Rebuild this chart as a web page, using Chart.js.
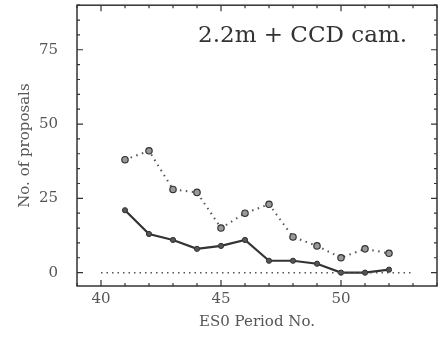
<!DOCTYPE html>
<html>
<head>
<meta charset="utf-8">
<script src="https://cdn.jsdelivr.net/npm/chart.js@4"></script>
<style>
  html, body { margin: 0; padding: 0; background: #fff; }
  #wrap { width: 446px; height: 338px; }
</style>
</head>
<body>
<div id="wrap"><canvas id="chart" width="446" height="338"></canvas></div>
<script>
// ESO periods and proposal counts
const periods = [41, 42, 43, 44, 45, 46, 47, 48, 49, 50, 51, 52];
const requested = [38, 41, 28, 27, 15, 20, 23, 12, 9, 5, 8, 6.5];
const allocated = [21, 13, 11, 8, 9, 11, 4, 4, 3, 0, 0, 1];
const zeroLineX = [40, 53];
const xTicks = [40, 45, 50];
const yTicks = [0, 25, 50, 75];

const serif = '"DejaVu Serif", "Liberation Serif", serif';
const ink = '#333';

// inward ticks on all four sides plus the frame
const frameTicks = {
    id: 'frameTicks',
    afterDraw(chart) {
        const ctx = chart.ctx;
        const a = chart.chartArea;
        const x = chart.scales.x, y = chart.scales.y;
        ctx.save();
        ctx.strokeStyle = ink;
        ctx.lineWidth = 1.5;
        ctx.strokeRect(a.left, a.top, a.right - a.left, a.bottom - a.top);
        ctx.lineWidth = 1.2;
        ctx.beginPath();
        for (let v = Math.ceil(x.min); v <= x.max; v++) {
            const px = x.getPixelForValue(v);
            const len = xTicks.includes(v) ? 6 : 3;
            ctx.moveTo(px, a.bottom); ctx.lineTo(px, a.bottom - len);
            ctx.moveTo(px, a.top); ctx.lineTo(px, a.top + len);
        }
        for (let v = 0; v <= y.max; v += 5) {
            const py = y.getPixelForValue(v);
            const len = yTicks.includes(v) ? 6 : 3;
            ctx.moveTo(a.left, py); ctx.lineTo(a.left + len, py);
            ctx.moveTo(a.right, py); ctx.lineTo(a.right - len, py);
        }
        ctx.stroke();
        // panel label
        ctx.fillStyle = ink;
        ctx.font = '23px ' + serif;
        ctx.textAlign = 'right';
        ctx.textBaseline = 'middle';
        ctx.fillText('2.2m + CCD cam.', a.right - 30, a.top + 31);
        ctx.restore();
    }
};

new Chart(document.getElementById('chart'), {
    type: 'scatter',
    data: {
        datasets: [
            {
                label: 'zero',
                data: zeroLineX.map(v => ({x: v, y: 0})),
                showLine: true,
                borderColor: '#555',
                borderWidth: 1.5,
                borderDash: [1.5, 4],
                pointRadius: 0
            },
            {
                label: 'requested',
                data: periods.map((p, i) => ({x: p, y: requested[i]})),
                showLine: true,
                borderColor: '#555',
                borderWidth: 2,
                borderDash: [1.5, 4.5],
                pointRadius: 3.2,
                pointBackgroundColor: '#999',
                pointBorderColor: '#333',
                pointBorderWidth: 1.2
            },
            {
                label: 'allocated',
                data: periods.map((p, i) => ({x: p, y: allocated[i]})),
                showLine: true,
                borderColor: '#333',
                borderWidth: 2.2,
                pointRadius: 2.6,
                pointBackgroundColor: '#555',
                pointBorderColor: '#333',
                pointBorderWidth: 1
            }
        ]
    },
    options: {
        responsive: false,
        animation: false,
        layout: { padding: { top: 4, right: 9, left: 0, bottom: 0 } },
        plugins: {
            legend: { display: false },
            tooltip: { enabled: false }
        },
        scales: {
            x: {
                type: 'linear',
                min: 39,
                max: 54,
                grid: { display: false, drawTicks: false },
                border: { display: false },
                afterBuildTicks: s => { s.ticks = xTicks.map(v => ({value: v})); },
                afterFit: s => { s.height = 52; s.paddingLeft = 0; s.paddingRight = 0; },
                ticks: {
                    padding: 4,
                    color: '#555',
                    font: { family: serif, size: 15 }
                },
                title: {
                    display: true,
                    text: 'ES0 Period No.',
                    color: '#555',
                    padding: { top: 4, bottom: 7 },
                    font: { family: serif, size: 15 }
                }
            },
            y: {
                min: -4.5,
                max: 90,
                grid: { display: false, drawTicks: false },
                border: { display: false },
                afterBuildTicks: s => { s.ticks = yTicks.map(v => ({value: v})); },
                afterFit: s => { s.width = 77; s.paddingTop = 0; s.paddingBottom = 0; },
                ticks: {
                    padding: 19,
                    color: '#555',
                    font: { family: serif, size: 15 }
                },
                title: {
                    display: true,
                    text: 'No. of proposals',
                    color: '#555',
                    padding: { top: 16, bottom: 0 },
                    font: { family: serif, size: 15 }
                }
            }
        }
    },
    plugins: [frameTicks]
});
</script>
</body>
</html>
